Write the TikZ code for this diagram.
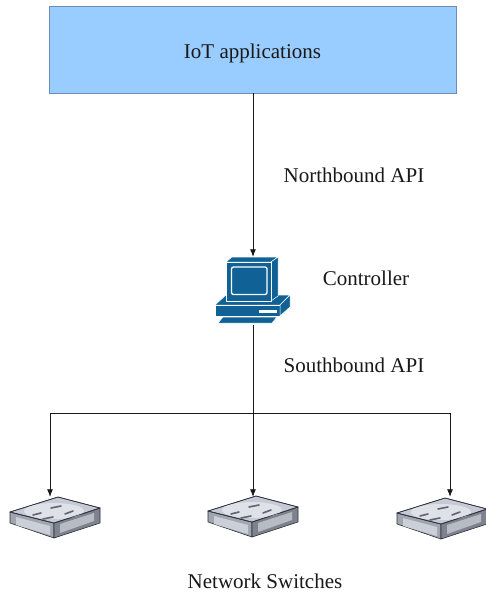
\documentclass[tikz,border=0pt]{standalone}
\usepackage{fontspec}
\setmainfont{Liberation Serif}
\usetikzlibrary{arrows.meta}
\definecolor{appfill}{RGB}{153,204,255}
\definecolor{appline}{RGB}{110,140,185}
\definecolor{cisco}{RGB}{16,98,150}
\definecolor{swtop}{RGB}{198,202,212}
\definecolor{swhi}{RGB}{222,225,232}
\definecolor{swside}{RGB}{160,165,176}
\definecolor{swdark}{RGB}{125,130,142}
\definecolor{swline}{RGB}{45,48,58}
\definecolor{swdash}{RGB}{95,100,112}
\definecolor{txt}{RGB}{25,25,25}
\tikzset{
  appbox/.style={draw=appline, line width=0.6pt, fill=appfill, minimum width=407pt, minimum height=87pt, inner sep=0pt, text depth=0pt, text height=19pt, font=\fontsize{21}{25}\selectfont, text=txt},
  iconbox/.style={inner sep=0pt, minimum width=75pt, minimum height=68pt},
  swbox/.style={inner sep=0pt, minimum width=90pt, minimum height=40pt},
  lbl/.style={anchor=base, inner sep=0pt, font=\fontsize{21}{25}\selectfont, text=txt},
  conn/.style={draw=txt, line width=0.8pt},
  arr/.style={conn, -{Latex[length=7.5pt,width=6pt]}},
  wsep/.style={draw=white, line width=0.5pt, line join=round},
}
\newcommand\switchicon[2]{%
  \begin{scope}[shift={(#1,#2)}]
    % side faces
    \filldraw[fill=swside, draw=swline, line width=0.6pt, line join=round]
      (0,0) -- (44,11) -- (44,26) -- (0,11) -- cycle;
    \filldraw[fill=swdark, draw=swline, line width=0.6pt, line join=round]
      (44,11) -- (90,-4) -- (90,11) -- (44,26) -- cycle;
    \fill[swhi!70!swside] (6,5) -- (40,14) -- (40,23) -- (6,13) -- cycle;
    \fill[swhi!60!swdark] (50,12) -- (84,1) -- (84,9) -- (50,21) -- cycle;
    % top face
    \filldraw[fill=swtop, draw=swline, line width=0.6pt, line join=round]
      (0,0) -- (48,-15) -- (90,-4) -- (44,11) -- cycle;
    \fill[swhi] (44,-1) ellipse [x radius=30pt, y radius=8pt];
    \draw[swline, line width=0.6pt, line join=round]
      (0,0) -- (48,-15) -- (90,-4) -- (44,11) -- cycle;
    % port dashes
    \draw[swdash, line width=1.6pt, line cap=round]
      (23,3) -- (31,1)  (41,-4) -- (51,-6)
      (33,7) -- (43,5)  (55,2) -- (63,-1);
  \end{scope}}
\begin{document}
\begin{tikzpicture}[x=1pt,y=-1pt]
\useasboundingbox[fill=white] (0,0) rectangle (486,593);

% nodes
\node[appbox] (app) at (252.5,49.5) {IoT applications};
\node[iconbox] (ctrl) at (253,291) {};
\node[swbox] (sw1) at (55,517) {};
\node[swbox] (sw2) at (253,517) {};
\node[swbox] (sw3) at (442,517) {};

\node[lbl] (nb) at (354,183) {Northbound API};
\node[lbl] (cl) at (366,285) {Controller};
\node[lbl] (sb) at (354,372) {Southbound API};
\node[lbl] (ns) at (265,588) {Network Switches};

% controller icon
\begin{scope}
  % base
  \filldraw[fill=cisco, wsep] (215,305) -- (226,295) -- (290,295) -- (280,305) -- cycle;
  \filldraw[fill=cisco, wsep] (215,305) -- (280,305) -- (280,316) -- (215,316) -- cycle;
  \filldraw[fill=cisco, wsep] (280,305) -- (290,295) -- (290,307) -- (280,316) -- cycle;
  \fill[white] (259,309.5) rectangle (277,312.5);
  % monitor
  \filldraw[fill=cisco, wsep] (226,262) -- (232,257) -- (278,257) -- (271,262) -- cycle;
  \filldraw[fill=cisco, wsep] (271,262) -- (278,257) -- (278,296) -- (271,301) -- cycle;
  \filldraw[fill=cisco, wsep] (226,262) rectangle (271,301);
  \draw[white, line width=1.3pt, rounded corners=2pt] (231.5,267) rectangle (267,294.5);
  % keyboard
  \filldraw[fill=cisco, wsep] (218,323) -- (272,323) -- (277,317) -- (223,317) -- cycle;
\end{scope}

% switch icons
\switchicon{10}{512}
\switchicon{208}{511}
\switchicon{397}{513}

% connectors
\coordinate (j) at (253,413);
\coordinate (b1) at (50,413);
\coordinate (b3) at (450,413);
\draw[arr] (app.south -| ctrl.north) -- (ctrl.north);
\draw[conn] (ctrl.south) -- (j);
\draw[conn] (b1) -- (b3);
\draw[arr] (j) -- (j |- sw2.north);
\draw[arr] (b1) -- (b1 |- sw1.north);
\draw[arr] (b3) -- (b3 |- sw3.north);
\end{tikzpicture}
\end{document}
